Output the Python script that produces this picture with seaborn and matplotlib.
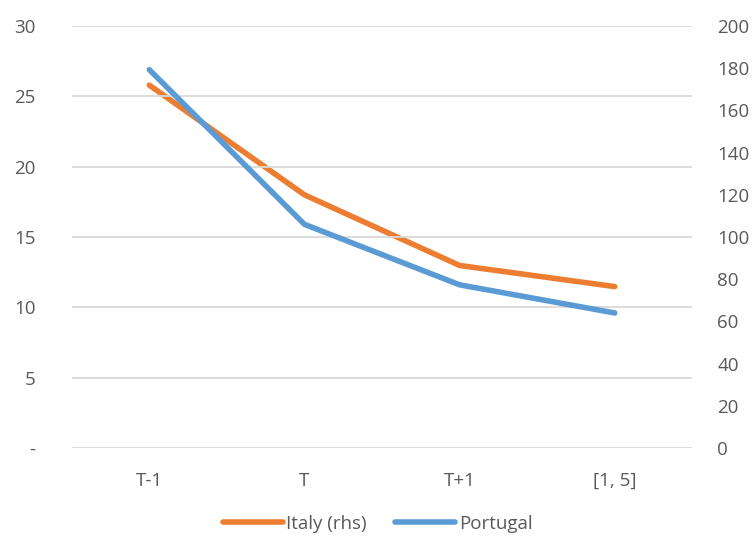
import matplotlib
matplotlib.use("Agg")
import matplotlib.pyplot as plt
import seaborn as sns
import pandas as pd

categories = ["T-1", "T", "T+1", "[1, 5]"]
portugal = [26.9, 15.9, 11.6, 9.6]
italy_rhs = [172, 120, 86.5, 76.5]

sns.set_theme(style="white")
plt.rcParams['font.family'] = ['Open Sans', 'DejaVu Sans']

txt = "#595959"
grid = "#d9d9d9"

df = pd.DataFrame({"cat": categories, "pos": range(len(categories)),
                   "Portugal": portugal, "Italy (rhs)": italy_rhs})

fig = plt.figure(figsize=(7.55, 5.43), dpi=100)
ax = fig.add_axes([0.095, 0.175, 0.822, 0.777])
ax2 = ax.twinx()

sns.lineplot(data=df, x="pos", y="Portugal", ax=ax, color="#5b9bd5", lw=4,
             solid_capstyle="round", label="Portugal", legend=False, zorder=3)
sns.lineplot(data=df, x="pos", y="Italy (rhs)", ax=ax2, color="#ed7d31", lw=4,
             solid_capstyle="round", label="Italy (rhs)", legend=False, zorder=3)

ax.set_xlim(-0.5, len(categories) - 0.5)
ax.set_ylim(0, 30)
ax2.set_ylim(0, 200)
ax.set_yticks(range(0, 31, 5))
ax.set_yticklabels(["-"] + [str(v) for v in range(5, 31, 5)])
ax2.set_yticks(range(0, 201, 20))
ax.set_xticks(range(len(categories)))
ax.set_xticklabels(categories)

ax.grid(axis="y", color=grid, lw=1.3)
ax.set_axisbelow(True)
ax2.grid(False)
for a in (ax, ax2):
    for s in a.spines.values():
        s.set_visible(False)
    a.set_xlabel("")
    a.set_ylabel("")
    a.tick_params(length=0, labelsize=13.5, colors=txt)
ax.tick_params(axis="x", pad=17)
ax.tick_params(axis="y", pad=26)
ax2.tick_params(axis="y", pad=18)

h1, l1 = ax2.get_legend_handles_labels()
h2, l2 = ax.get_legend_handles_labels()
ax.set_zorder(ax2.get_zorder() + 1)
ax.patch.set_visible(False)
fig.legend(h1 + h2, l1 + l2, loc="lower center", bbox_to_anchor=(0.5, -0.012), ncol=2,
           frameon=False, fontsize=13.5, labelcolor=txt, handlelength=3.2,
           handletextpad=0.2, columnspacing=1.5)

fig.savefig("out.png", dpi=100)
